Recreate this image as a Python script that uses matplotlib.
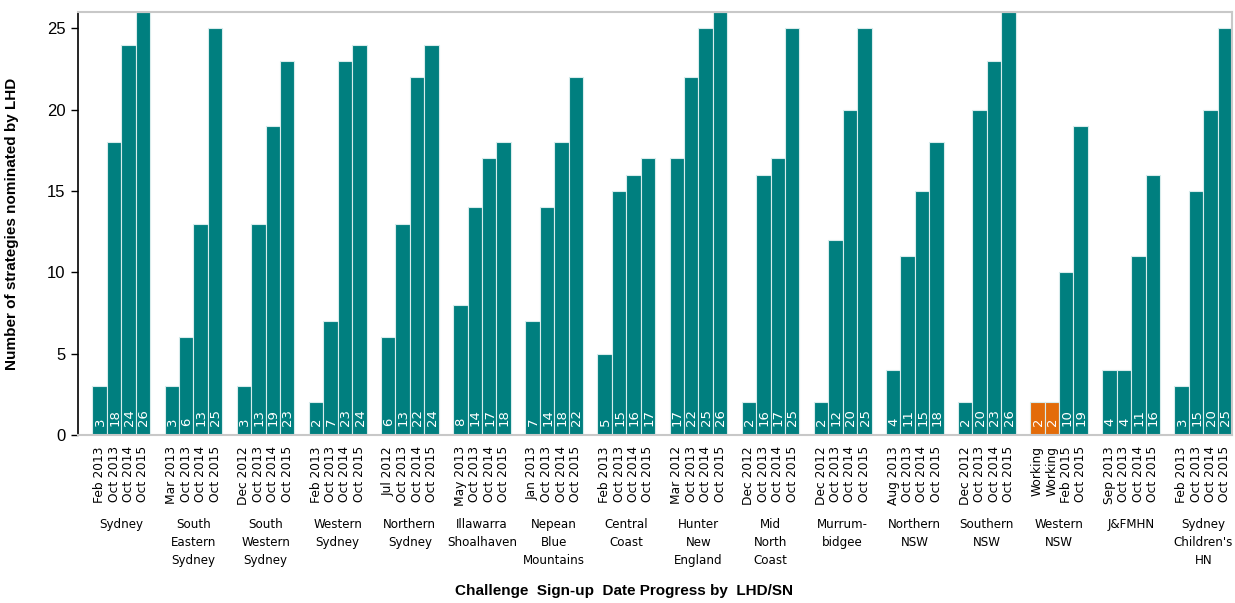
import matplotlib
matplotlib.use("Agg")
import matplotlib.pyplot as plt

regions = ["Sydney", "South\nEastern\nSydney", "South\nWestern\nSydney", "Western\nSydney",
           "Northern\nSydney", "Illawarra\nShoalhaven", "Nepean\nBlue\nMountains", "Central\nCoast",
           "Hunter\nNew\nEngland", "Mid\nNorth\nCoast", "Murrum-\nbidgee", "Northern\nNSW",
           "Southern\nNSW", "Western\nNSW", "J&FMHN", "Sydney\nChildren's\nHN"]

first_dates = ["Feb 2013", "Mar 2013", "Dec 2012", "Feb 2013", "Jul 2012", "May 2013",
               "Jan 2013", "Feb 2013", "Mar 2012", "Dec 2012", "Dec 2012", "Aug 2013",
               "Dec 2012", None, "Sep 2013", "Feb 2013"]
later_dates = ["Oct 2013", "Oct 2014", "Oct 2015"]
western_nsw_dates = ["Working", "Working", "Feb 2015", "Oct 2015"]

values = [
    [3, 18, 24, 26],
    [3, 6, 13, 25],
    [3, 13, 19, 23],
    [2, 7, 23, 24],
    [6, 13, 22, 24],
    [8, 14, 17, 18],
    [7, 14, 18, 22],
    [5, 15, 16, 17],
    [17, 22, 25, 26],
    [2, 16, 17, 25],
    [2, 12, 20, 25],
    [4, 11, 15, 18],
    [2, 20, 23, 26],
    [2, 2, 10, 19],
    [4, 4, 11, 16],
    [3, 15, 20, 25],
]

teal = "#007f7f"
orange = "#e36c0a"

fig = plt.figure(figsize=(12.35, 6.03), dpi=100)
ax = fig.add_axes([0.0632, 0.2786, 0.9345, 0.7014])

xs, ys, cols, ticklabels = [], [], [], []
for g, vals in enumerate(values):
    if first_dates[g] is None:
        dates = western_nsw_dates
    else:
        dates = [first_dates[g]] + later_dates
    for j, v in enumerate(vals):
        xs.append(5 * g + j + 1)
        ys.append(v)
        ticklabels.append(dates[j])
        cols.append(orange if dates[j] == "Working" else teal)

ax.bar(xs, ys, width=1.0, color=cols, edgecolor="#d8ecec", linewidth=0.8)

# value labels sit at the foot of each bar
for x, y in zip(xs, ys):
    ax.text(x + 0.05, 0.55, str(y), rotation=90, ha="center", va="bottom",
            color="white", fontsize=9.5, family="DejaVu Sans")

ax.set_xlim(-0.5, 79.5)
ax.set_ylim(0, 26)
ax.set_yticks([0, 5, 10, 15, 20, 25])
ax.tick_params(axis="y", labelsize=12, length=5, width=1, direction="out", pad=4)
for lab in ax.get_yticklabels():
    lab.set_family("Liberation Sans")

ax.set_xticks(xs)
ax.set_xticklabels(ticklabels, rotation=90, fontsize=8.8, family="DejaVu Sans")
ax.tick_params(axis="x", length=0, pad=8)

for g, name in enumerate(regions):
    ax.text(5 * g + 2.5, -5.1, name, ha="center", va="top", fontsize=8.6,
            linespacing=1.5, family="DejaVu Sans", clip_on=False)

ax.set_ylabel("Number of strategies nominated by LHD", fontsize=11, fontweight="bold",
              family="Liberation Sans", labelpad=20)
fig.text(0.505, 0.008, "Challenge  Sign-up  Date Progress by  LHD/SN", ha="center",
         va="bottom", fontsize=11, fontweight="bold", family="Liberation Sans")

ax.spines["left"].set_color("black")
ax.spines["left"].set_linewidth(1.2)
for s in ["top", "right", "bottom"]:
    ax.spines[s].set_color("#c8c8c8")
    ax.spines[s].set_linewidth(1.5)

fig.savefig("out.png", dpi=100)
